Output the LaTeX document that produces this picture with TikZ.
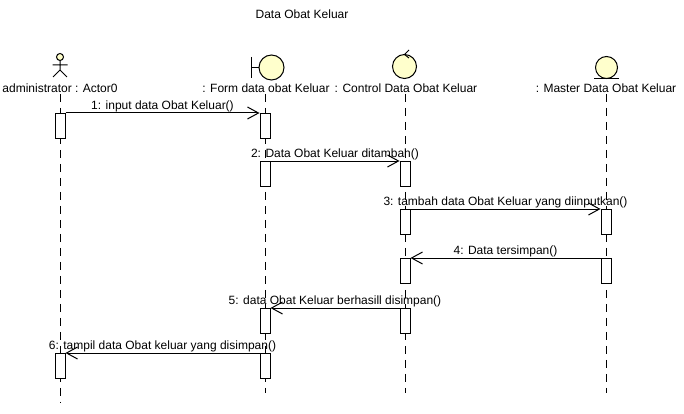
\documentclass[tikz,border=0pt]{standalone}
\usepackage{fontspec}
\setmainfont{Liberation Sans}
\usetikzlibrary{arrows.meta}
\definecolor{iconfill}{RGB}{255,255,204}
\begin{document}
\begin{tikzpicture}[x=1pt, y=-1pt, line width=1pt, font=\fontsize{12}{14}\selectfont,
    lbl/.style={inner sep=1pt},
    life/.style={dash pattern=on 8pt off 6pt},
    act/.style={draw, fill=white, minimum width=10pt, minimum height=25pt, inner sep=0pt, anchor=north},
    msg/.style={-{Straight Barb[length=11pt, width=12pt]}},
    txt/.style={midway, above, inner sep=1pt},
    icon/.style={draw, fill=iconfill}]
\useasboundingbox (0,0) rectangle (684,414);
\node (title) at (302,14) {Data Obat Keluar};

% actor
\draw[icon] (60,57) circle (3.5pt);
\draw (60,60.5)--(60,70) (52.5,65)--(67.5,65) (53,77)--(60,70)--(67,77);
% boundary
\draw (251,57)--(251,78) (251,67.5)--(259,67.5);
\draw[icon] (271.5,67.5) circle (12.5pt);
% control
\draw[icon] (404.5,66.5) circle (12pt);
\draw (409,50)--(404.5,54.5)--(409,58);
% entity
\draw[icon] (606.5,67.5) circle (11pt);
\draw (594,79)--(619,79);

\node[lbl] (adminL) at (60,88) {administrator : Actor0};
\node[lbl] (formL) at (266,88) {: Form data obat Keluar};
\node[lbl] (ctrlL) at (406,88) {: Control Data Obat Keluar};
\node[lbl] (masterL) at (606,88) {: Master Data Obat Keluar};

\coordinate (adminE) at (60,403);
\coordinate (formE) at (265,393);
\coordinate (ctrlE) at (405,393);
\coordinate (masterE) at (606,393);
\draw[life] (adminL.south-|adminE)--(adminE);
\draw[life] (formL.south-|formE)--(formE);
\draw[life] (ctrlL.south-|ctrlE)--(ctrlE);
\draw[life] (masterL.south-|masterE)--(masterE);

\foreach \n/\x/\y in {a1/60/113, f1/265/113, f2/265/161, c2/405/161, c3/405/209, m3/606/209,
    c4/405/258, m4/606/258, f5/265/308, c5/405/308, a6/60/353, f6/265/353}
{
    \node[act] (\n) at (\x,\y) {};
}

\draw[msg] (a1.north east)--(f1.north west) node[txt]{1: input data Obat Keluar()};
\draw[msg] (f2.north east)--(c2.north west) node[txt]{2: Data Obat Keluar ditambah()};
\draw[msg] (c3.north east)--(m3.north west) node[txt]{3: tambah data Obat Keluar yang diinputkan()};
\draw[msg] (m4.north west)--(c4.north east) node[txt]{4: Data tersimpan()};
\draw[msg] (c5.north west)--(f5.north east) node[txt]{5: data Obat Keluar berhasill disimpan()};
\draw[msg] (f6.north west)--(a6.north east) node[txt]{6: tampil data Obat keluar yang disimpan()};
\end{tikzpicture}
\end{document}
